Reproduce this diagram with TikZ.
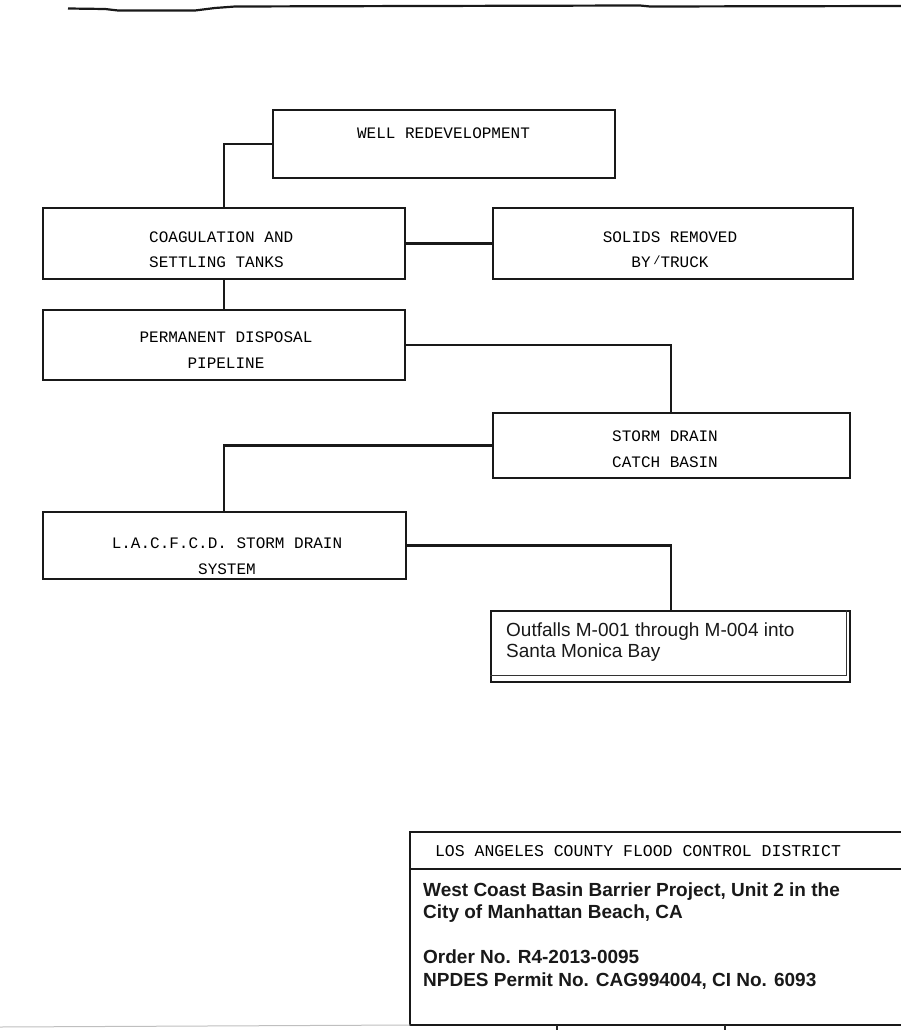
\documentclass[tikz,border=0pt]{standalone}
\usepackage{fontspec}
\setmainfont{Liberation Sans}
\newfontfamily\tw{Liberation Mono}
\begin{document}
\begin{tikzpicture}[x=1pt,y=-1pt,
  box/.style={draw=black!90, line width=2.6pt, inner sep=0pt, outer sep=0pt, rectangle},
  conn/.style={draw=black!90, line width=2.3pt},
  twtext/.style={font=\tw\fontsize{16}{25.5}\selectfont, inner sep=0pt, text=black},
  artext/.style={font=\fontsize{19}{21}\selectfont, inner sep=0pt, text=black!90},
  thin/.style={draw=black!90, line width=1.7pt}]
\useasboundingbox (0,0) rectangle (901,1030);
% top rule (slightly wavy, as scanned)
\coordinate (tl) at (68,8.5);
\coordinate (tr) at (901,6);
\draw[line width=2.2pt, black!90, line join=round] (tl) -- (105,9) -- (118,10.5) -- (195,10.5) -- (215,8) -- (235,6.5) -- (420,6) -- (640,5.5) -- (650,6.5) -- (tr);
% boxes
\node[box, minimum width=342, minimum height=68] (well) at (444,144) {};
\node[box, minimum width=362, minimum height=71] (coag) at (224,243.5) {};
\node[box, minimum width=360, minimum height=71] (solids) at (673,243.5) {};
\node[box, minimum width=362, minimum height=70] (perm) at (224,345) {};
\node[box, minimum width=357, minimum height=65] (storm) at (671.5,445.5) {};
\node[box, minimum width=363, minimum height=67] (lac) at (224.5,545.5) {};
\node[thin, rectangle, inner sep=0pt, minimum width=359, minimum height=71] (out) at (670.5,646.5) {};
\draw[line width=1.1pt, black!80] ([xshift=-4pt]out.north east) -- ([xshift=-4pt,yshift=7pt]out.south east) -- ([yshift=7pt]out.south west);
% texts
\node[twtext] (welltxt) at (443.5,133) {WELL REDEVELOPMENT};
\node[twtext, align=left, anchor=west] (coagtxt) at (149,249.5) {COAGULATION AND\\SETTLING TANKS};
\node[twtext, align=center] (solidstxt) at (670,249.5) {SOLIDS REMOVED\\BY\,\raisebox{3pt}{\fontsize{12}{12}\selectfont/}TRUCK};
\node[twtext, align=center] (permtxt) at (226,350) {PERMANENT DISPOSAL\\PIPELINE};
\node[twtext, align=center] (stormtxt) at (665,449) {STORM DRAIN\\CATCH BASIN};
\node[twtext, align=center] (lactxt) at (227,556) {L.A.C.F.C.D. STORM DRAIN\\SYSTEM};
\node[artext, align=left, anchor=west] (outtxt) at (506,642) {Outfalls M-001 through M-004 into\\Santa Monica Bay};
% connectors
\coordinate (jx) at (224,0);
\coordinate (kx) at (671,0);
\draw[conn] (well.west) -| (coag.north -| jx);
\draw[conn] (coag.east) -- (solids.west);
\draw[conn] (coag.south -| jx) -- (perm.north -| jx);
\draw[conn] (perm.east) -| (storm.north -| kx);
\draw[conn] (storm.west) -| (lac.north -| jx);
\draw[conn] (lac.east) -| (out.north -| kx);
% title block
\coordinate (tb1) at (410,832);
\coordinate (tb2) at (901,832);
\coordinate (tb3) at (410,869);
\coordinate (tb4) at (901,869);
\coordinate (tb5) at (410,1025);
\coordinate (tb6) at (901,1025);
\draw[line width=2.2pt, black!90] (tb2) -- (tb1) -- (tb5) -- (tb6);
\draw[line width=2.2pt, black!90] (tb3) -- (tb4);
\coordinate (tk1) at (557,1025);
\coordinate (tk2) at (557,1030);
\coordinate (tk3) at (725,1025);
\coordinate (tk4) at (725,1030);
\draw[line width=1.2pt, black!85] (tk1) -- (tk2) (tk3) -- (tk4);
\coordinate (bl1) at (0,1027);
\draw[line width=1pt, black!25] (bl1) -- (tb5);
\node[font=\tw\fontsize{16.5}{20}\selectfont, inner sep=0pt, text=black] (lacfcd) at (638,851) {LOS ANGELES COUNTY FLOOD CONTROL DISTRICT};
\node[font=\bfseries\fontsize{19}{22.5}\selectfont, inner sep=0pt, align=left, anchor=west, text=black!90] (proj) at (423,936) {West Coast Basin Barrier Project, Unit 2 in the\\City of Manhattan Beach, CA\\[22.5pt]Order No. R4-2013-0095\\NPDES Permit No. CAG994004, CI No. 6093};
\end{tikzpicture}
\end{document}
